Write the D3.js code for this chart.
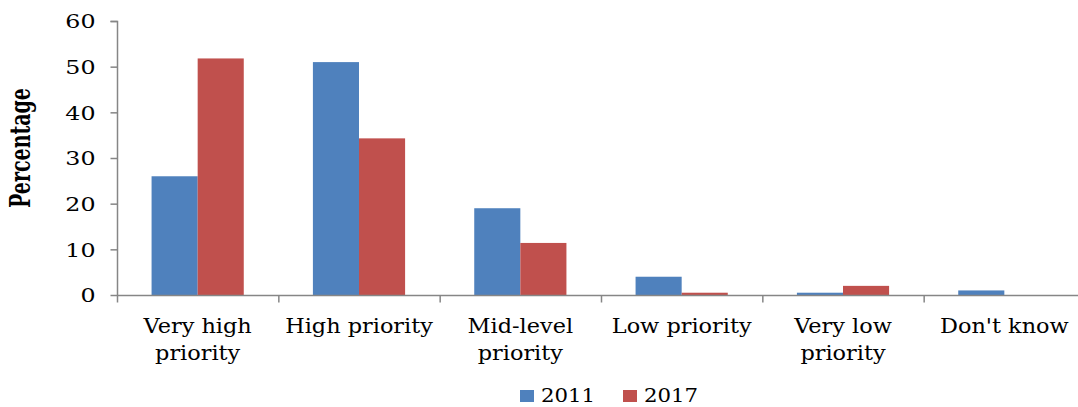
<!DOCTYPE html>
<html>
<head>
<meta charset="utf-8">
<script src="https://cdn.jsdelivr.net/npm/d3@7"></script>
<style>
  html, body { margin: 0; padding: 0; background: #fff; }
  svg { display: block; }
  text { font-family: "DejaVu Serif", serif; fill: #000; }
</style>
</head>
<body>
<svg id="chart" width="1078" height="407"></svg>
<script>
const categories = [["Very high", "priority"], ["High priority"], ["Mid-level", "priority"], ["Low priority"], ["Very low", "priority"], ["Don't know"]];
const seriesNames = ["2011", "2017"];
const values2011 = [26, 51, 19, 4, 0.5, 1];
const values2017 = [51.8, 34.3, 11.4, 0.5, 2, 0];
const yTicks = [0, 10, 20, 30, 40, 50, 60];
const colors = ["#4F81BD", "#C0504D"];

const svg = d3.select("#chart");
const axisColor = "#868686";
const fontSize = 20;
const stretch = 1.12;

const x = d3.scaleBand().domain(d3.range(categories.length)).range([117, 1085]).paddingInner(0).paddingOuter(0);
const bw = x.bandwidth();
const barW = bw / 3.5; // Excel gap width 150%
const y = d3.scaleLinear().domain([0, 60]).range([295, 21]);

// Bars
const series = [values2011, values2017];
series.forEach((vals, si) => {
  svg.append("g").selectAll("rect").data(vals).join("rect")
    .attr("x", (d, i) => x(i) + bw * 0.75 / 3.5 + si * barW)
    .attr("y", d => y(d))
    .attr("width", barW)
    .attr("height", d => y(0) - y(d))
    .attr("fill", colors[si]);
});

// Y axis
const yAxis = d3.axisLeft(y).tickValues(yTicks).tickSize(7).tickPadding(13).tickFormat(d3.format("d"));
const gy = svg.append("g").attr("transform", "translate(117.5,0)").call(yAxis);
gy.select(".domain").attr("stroke", axisColor).attr("stroke-width", 1.5).attr("d", `M-7,${y(60)+0.5}H0V${y(0)}`);
gy.selectAll(".tick line").attr("stroke", axisColor).attr("stroke-width", 1.5);
gy.selectAll(".tick text")
  .attr("font-family", "DejaVu Serif").attr("font-size", 19).attr("fill", "#000")
  .attr("x", 0).attr("dy", "0.36em")
  .attr("transform", "translate(-22,0) scale(1.25,1)");

// X axis
const xLin = d3.scaleLinear().domain([0, categories.length]).range([117, 1085]);
const xAxis = d3.axisBottom(xLin).tickValues(d3.range(categories.length + 1)).tickSize(7).tickFormat("");
const gx = svg.append("g").attr("transform", `translate(0,${y(0) + 0.5})`).call(xAxis);
gx.select(".domain").attr("stroke", axisColor).attr("stroke-width", 1.5).attr("d", "M117,0H1085");
gx.selectAll(".tick line").attr("stroke", axisColor).attr("stroke-width", 1.5);

// Category labels
const labels = svg.append("g").selectAll("text").data(categories).join("text")
  .attr("text-anchor", "middle")
  .attr("font-size", fontSize)
  .attr("transform", (d, i) => `translate(${x(i) + bw / 2},333) scale(${stretch},1)`);
labels.selectAll("tspan").data(d => d).join("tspan")
  .attr("x", 0)
  .attr("dy", (d, i) => i === 0 ? 0 : 27)
  .text(d => d);

// Y title
svg.append("text")
  .attr("transform", "translate(30,148) rotate(-90) scale(1,1.5)")
  .attr("text-anchor", "middle")
  .attr("font-size", 19)
  .attr("font-weight", "bold")
  .text("Percentage");

// Legend
const legend = svg.append("g");
const legendX = [520, 623];
seriesNames.forEach((name, i) => {
  legend.append("rect").attr("x", legendX[i]).attr("y", 390).attr("width", 14).attr("height", 12).attr("fill", colors[i]);
  legend.append("text")
    .attr("transform", `translate(${legendX[i] + 21},402) scale(${stretch},1)`)
    .attr("font-size", 19).text(name);
});
</script>
</body>
</html>
